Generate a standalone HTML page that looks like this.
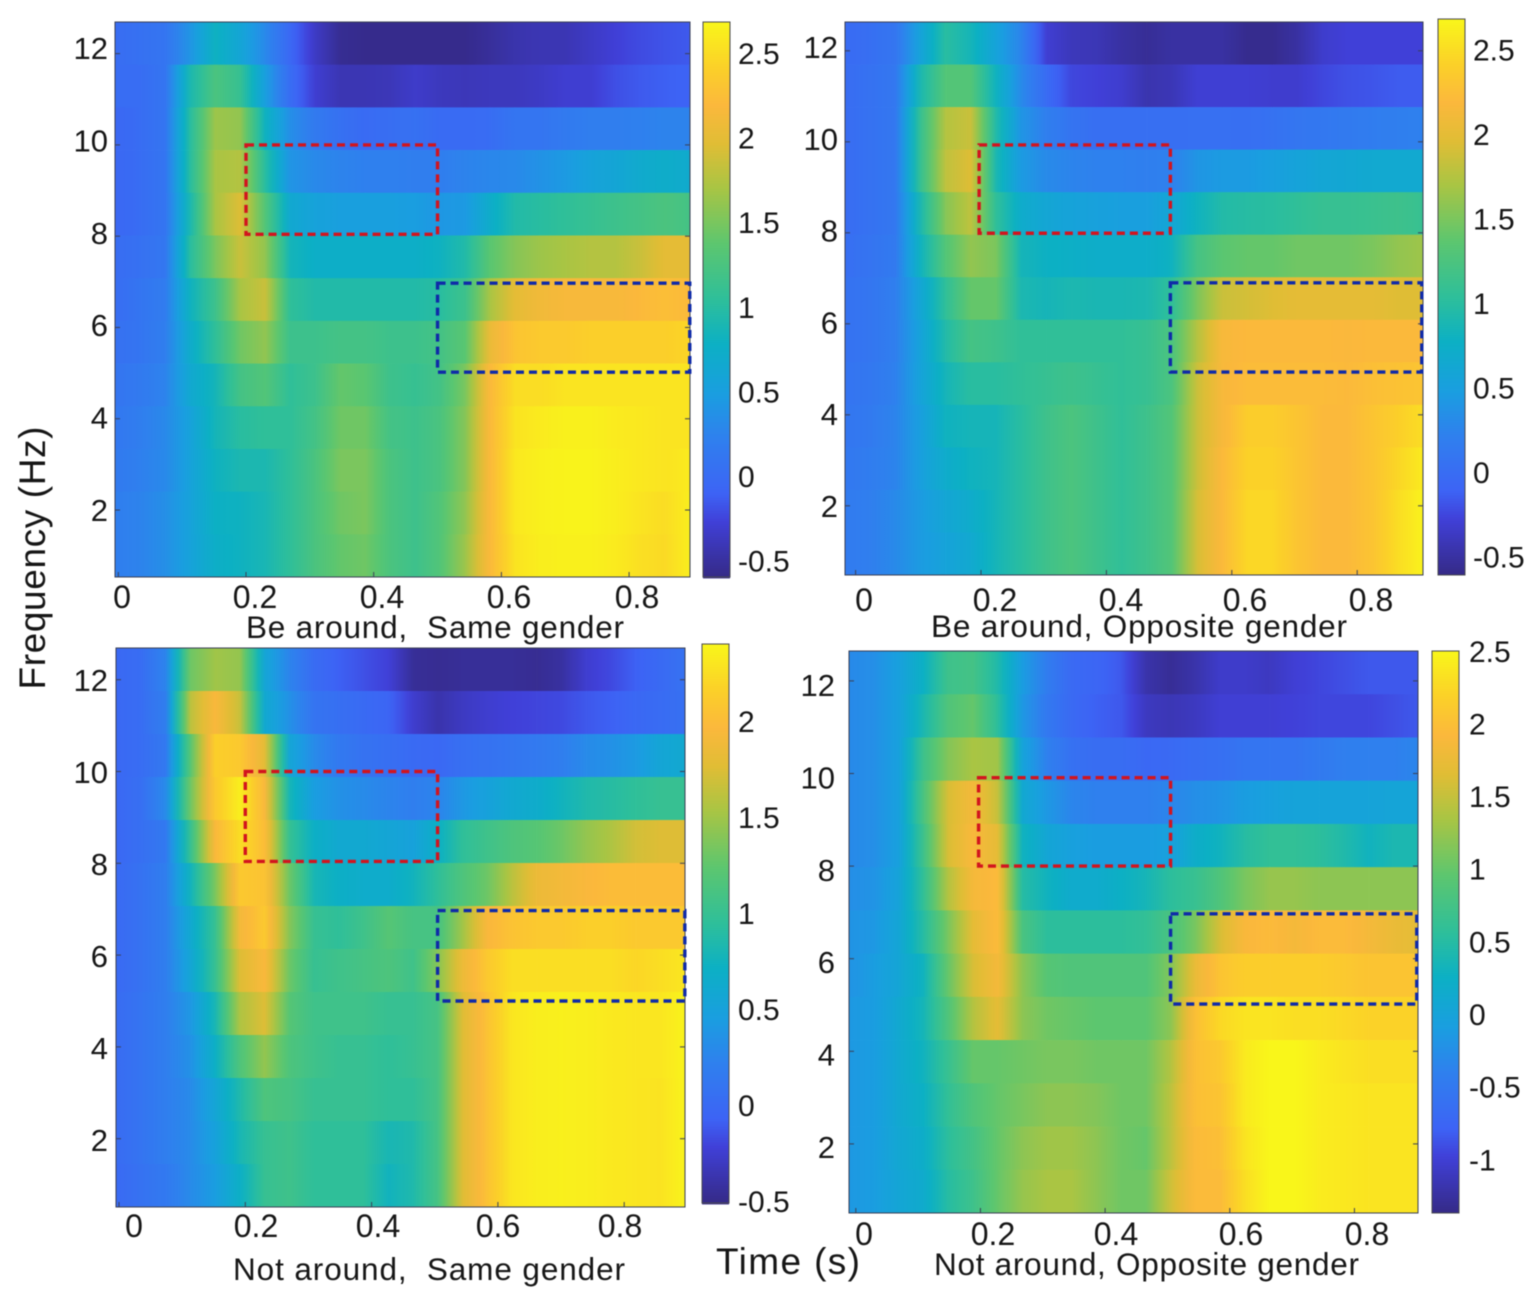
<!DOCTYPE html>
<html lang="en">
<head>
<meta charset="utf-8">
<title>Time-frequency power by condition</title>
<style>
html,body{margin:0;padding:0;background:#fff;width:1535px;height:1298px;overflow:hidden}
svg{display:block;filter:blur(0.55px)}
text{font-family:"Liberation Sans",sans-serif;fill:#161616}
</style>
</head>
<body>
<svg id="figure" xmlns="http://www.w3.org/2000/svg" width="1535" height="1298" viewBox="0 0 1535 1298">
<defs id="grads"></defs>
<g id="panels"></g>
<text transform="translate(45,558) rotate(-90)" text-anchor="middle" font-size="37" textLength="263" lengthAdjust="spacing">Frequency (Hz)</text>
<text x="716" y="1274" font-size="37" textLength="144" lengthAdjust="spacing">Time (s)</text>
<text x="246" y="638" font-size="31.5" textLength="378" lengthAdjust="spacing" xml:space="preserve">Be around,  Same gender</text>
<text x="931" y="637" font-size="31.5" textLength="416" lengthAdjust="spacing">Be around, Opposite gender</text>
<text x="233" y="1280" font-size="31.5" textLength="392" lengthAdjust="spacing" xml:space="preserve">Not around,  Same gender</text>
<text x="934" y="1275" font-size="31.5" textLength="425" lengthAdjust="spacing">Not around, Opposite gender</text>
</svg>
<script>
// Axis tick values and labels
const xTickValues = [0, 0.2, 0.4, 0.6, 0.8];
const xTickLabels = ['0', '0.2', '0.4', '0.6', '0.8'];
const yTickValues = [2, 4, 6, 8, 10, 12];
const yTickLabels = ['2', '4', '6', '8', '10', '12'];
const cbTicksA = [-0.5, 0, 0.5, 1, 1.5, 2, 2.5];
const cbLabelsA = ['-0.5', '0', '0.5', '1', '1.5', '2', '2.5'];
const cbTicksC = [-0.5, 0, 0.5, 1, 1.5, 2];
const cbLabelsC = ['-0.5', '0', '0.5', '1', '1.5', '2'];
const cbTicksD = [-1, -0.5, 0, 0.5, 1, 1.5, 2, 2.5];
const cbLabelsD = ['-1', '-0.5', '0', '0.5', '1', '1.5', '2', '2.5'];

// Heatmap values: rows run from the highest frequency bin to the lowest, columns from earliest to latest time sample
const beAroundSame = [
[0,.05,.1,.4,.8,.6,.3,-.05,-.35,-.55,-.58,-.58,-.58,-.58,-.58,-.52,-.45,-.42,-.42,-.35,-.28,-.22,-.18,-.15],
[0,0,.1,.9,1.25,1.1,.5,0,-.3,-.42,-.42,-.4,-.33,-.38,-.4,-.38,-.38,-.35,-.3,-.3,-.2,-.15,-.12,-.1],
[-.05,0,.1,1,1.65,1.6,.8,.35,.15,.05,-.02,.02,.05,-.02,-.02,0,.1,.1,.15,.2,.2,.22,.25,.25],
[-.05,0,.1,1,1.7,1.75,1,.4,.3,.25,.22,.22,.2,.2,.25,.28,.3,.38,.45,.55,.6,.68,.72,.68],
[-.05,0,.1,.9,1.7,1.95,1.3,.65,.55,.5,.5,.5,.48,.42,.45,.72,.95,1,1.05,1.1,1.15,1.2,1.25,1.2],
[0,.05,.12,1,1.5,1.85,1.6,.85,.75,.75,.75,.75,.75,.8,.95,1.35,1.55,1.65,1.7,1.75,1.75,1.85,2,2],
[0,.1,.18,.8,1.15,1.7,1.85,1.05,.95,.95,.95,.95,.95,1,1.15,1.7,2,2.1,2.15,2.15,2.15,2.2,2.25,2.2],
[.05,.1,.2,.7,1.05,1.45,1.6,1.15,1.15,1.2,1.2,1.15,1.15,1.2,1.35,2.05,2.3,2.35,2.35,2.4,2.4,2.4,2.4,2.45],
[.1,.15,.25,.65,.85,1.2,1.3,1.05,1.15,1.4,1.35,1.15,1.1,1.2,1.5,2.2,2.5,2.5,2.55,2.55,2.55,2.55,2.55,2.55],
[.12,.2,.3,.55,.85,1,1.05,1.05,1.2,1.45,1.45,1.2,1.15,1.25,1.55,2.2,2.55,2.6,2.64,2.64,2.6,2.58,2.55,2.55],
[.15,.22,.3,.55,.8,.9,.9,1.05,1.25,1.5,1.5,1.25,1.15,1.25,1.55,2.2,2.58,2.64,2.66,2.66,2.62,2.58,2.55,2.6],
[.2,.25,.35,.55,.78,.8,.88,1.05,1.25,1.45,1.5,1.25,1.15,1.3,1.6,2.2,2.58,2.64,2.66,2.66,2.62,2.55,2.5,2.62],
[.2,.25,.35,.55,.75,.8,.88,1.05,1.25,1.4,1.45,1.25,1.15,1.3,1.65,2.2,2.55,2.62,2.64,2.64,2.6,2.52,2.48,2.62]
];
const beAroundOpposite = [
[-.02,.02,.1,.55,1,.85,.55,.25,-.3,-.4,-.42,-.5,-.55,-.5,-.5,-.5,-.58,-.58,-.5,-.33,-.28,-.28,-.28,-.28],
[0,.05,.12,.9,1.3,1.3,.8,.3,-.02,-.25,-.28,-.32,-.45,-.42,-.3,-.3,-.3,-.32,-.32,-.25,-.2,-.18,-.15,-.15],
[0,.05,.12,1.1,1.75,1.85,.95,.4,.2,.08,.02,.02,.02,.02,.03,.03,.02,.05,.1,.12,.15,.18,.2,.22],
[0,.05,.12,1.1,1.8,1.95,.9,.45,.3,.25,.22,.22,.2,.22,.4,.45,.45,.5,.55,.6,.62,.65,.65,.65],
[0,.05,.12,.9,1.55,1.8,1.05,.7,.6,.55,.52,.5,.5,.6,.8,.95,.98,1,1.05,1.1,1.1,1.12,1.15,1.1],
[.02,.08,.15,.8,1.3,1.6,1.5,.85,.78,.75,.72,.72,.72,.8,1.2,1.35,1.4,1.4,1.45,1.45,1.45,1.5,1.6,1.65],
[.05,.1,.2,.6,1.05,1.4,1.4,.9,.85,.9,.88,.88,.9,1.05,1.5,1.85,1.9,1.95,2,2,2,2,1.95,1.95],
[.05,.1,.2,.55,.95,1.2,1.15,1.05,1.05,1.05,1.05,1.05,1.1,1.25,1.75,2.15,2.2,2.2,2.2,2.2,2.18,2.2,2.2,2.2],
[.08,.12,.22,.55,.85,1,1,1.05,1.1,1.15,1.1,1.05,1.1,1.25,1.85,2.15,2.22,2.22,2.22,2.22,2.2,2.25,2.28,2.3],
[.1,.15,.25,.5,.8,.85,.85,1,1.15,1.25,1.15,1.05,1.15,1.3,1.85,2.15,2.38,2.38,2.3,2.2,2.2,2.3,2.4,2.5],
[.12,.18,.25,.5,.7,.8,.85,1,1.15,1.25,1.15,1.05,1.15,1.3,1.85,2.2,2.42,2.42,2.3,2.2,2.2,2.3,2.45,2.6],
[.15,.2,.3,.45,.6,.7,.85,1,1.15,1.25,1.15,1.05,1.15,1.3,1.9,2.2,2.46,2.46,2.3,2.2,2.2,2.3,2.5,2.65],
[.15,.2,.3,.45,.55,.65,.85,1,1.15,1.25,1.15,1.05,1.15,1.3,1.9,2.2,2.46,2.46,2.3,2.2,2.2,2.3,2.5,2.65]
];
const notAroundSame = [
[-.02,.03,.25,1.3,1.5,1.45,.55,.25,.02,-.08,-.15,-.22,-.45,-.47,-.45,-.45,-.45,-.47,-.42,-.25,-.18,-.08,0,.08],
[-.02,.03,.2,1.6,1.95,1.65,.6,.35,.1,.05,0,-.05,-.25,-.38,-.3,-.25,-.22,-.2,-.18,-.12,-.08,-.02,.02,.05],
[-.02,.03,.15,1.2,2.15,2.1,1.8,.55,.3,.15,.08,.05,0,-.02,.05,.08,.12,.15,.2,.3,.35,.42,.55,.6],
[-.02,.05,.3,1.3,2.1,2.35,1.95,.8,.45,.35,.3,.25,.2,.25,.4,.5,.6,.65,.75,.85,.9,.95,1,1],
[-.02,.05,.15,1,1.95,2.25,2,1,.7,.6,.6,.55,.5,.7,.95,1.05,1.15,1.2,1.3,1.45,1.55,1.7,1.75,1.75],
[0,.08,.2,.75,1.35,2.1,2.05,1.3,.8,.7,.65,.65,.75,.95,1.15,1.3,1.6,1.85,1.9,1.95,2,2,2,2],
[0,.08,.2,.6,1,1.9,2.1,1.4,1,.95,1.05,1.2,1.1,1.1,1.5,1.95,2.05,2.1,2.1,2.15,2.15,2.1,2.1,2.1],
[0,.08,.2,.55,1,1.75,1.95,1.3,1,1.05,1.1,1.15,1.05,1.4,1.85,2.1,2.25,2.25,2.25,2.25,2.25,2.2,2.25,2.3],
[.02,.1,.2,.4,.8,1.55,1.75,1.2,1.05,1.05,1.05,1,1,1.1,1.75,2.05,2.3,2.35,2.36,2.35,2.32,2.3,2.3,2.38],
[.02,.1,.2,.35,.7,1.15,1.45,1.15,1.05,1,1,.95,1,1.1,1.75,2.05,2.3,2.35,2.36,2.35,2.32,2.3,2.3,2.38],
[.02,.1,.2,.3,.55,.85,1.15,1.1,1,1,1,.95,.95,1.1,1.75,2.05,2.3,2.35,2.36,2.35,2.32,2.3,2.28,2.38],
[.02,.1,.2,.3,.5,.8,1,1.05,.95,.95,.95,.8,.85,1.1,1.75,2.05,2.3,2.35,2.36,2.35,2.32,2.3,2.28,2.38],
[0,.08,.15,.3,.45,.7,1,1.05,.95,.95,.95,.75,.85,1.1,1.75,2.05,2.3,2.35,2.36,2.35,2.32,2.3,2.28,2.38]
];
const notAroundOpposite = [
[-.3,-.25,-.05,.25,.7,.75,.45,-.1,-.45,-.7,-.75,-.85,-1.2,-1.3,-1.2,-1.05,-1.05,-1.1,-1,-.95,-.9,-.85,-.85,-.85],
[-.3,-.25,-.05,.4,.85,1,.55,-.15,-.5,-.7,-.8,-.85,-1.1,-1.15,-1.1,-1,-1,-1,-.98,-.95,-.95,-.95,-.9,-.85],
[-.3,-.25,-.05,.7,1.15,1.35,1.3,0,-.4,-.6,-.65,-.65,-.72,-.7,-.65,-.62,-.55,-.55,-.55,-.48,-.42,-.4,-.4,-.35],
[-.3,-.25,-.05,.8,1.6,1.85,1.5,.1,-.15,-.35,-.4,-.4,-.4,-.35,-.25,-.2,-.1,-.05,0,0,0,0,.02,.02],
[-.3,-.25,-.05,.7,1.6,1.9,1.7,.3,.05,-.05,-.1,-.1,-.1,-.05,.2,.3,.5,.6,.6,.55,.45,.3,.4,.4],
[-.25,-.2,0,.6,1.4,1.85,1.95,.5,.3,.15,.15,.25,.35,.55,.65,.85,1.1,1.25,1.25,1.2,1.2,1.2,1.2,1.2],
[-.2,-.15,.05,.5,1.1,1.7,1.95,.8,.55,.55,.55,.55,.6,.8,1.1,1.6,1.9,1.95,1.85,1.95,1.95,1.85,1.75,1.7],
[-.2,-.1,.05,.3,1,1.6,1.85,1.2,.9,.85,.85,.85,.85,1.15,1.75,2.05,2.15,2.15,2.15,2.15,2.1,2.05,2.05,2.05],
[-.15,-.1,.1,.35,.85,1.4,1.7,1.2,1.05,1,.95,.95,.95,1.2,2,2.25,2.35,2.35,2.3,2.3,2.25,2.2,2.2,2.2],
[-.15,-.1,.1,.3,.65,1,1,1.05,1.1,1.1,1.05,1.05,1.05,1.4,2,2.1,2.4,2.5,2.5,2.42,2.35,2.3,2.3,2.3],
[-.15,-.1,.1,.25,.6,.85,1,1.1,1.2,1.2,1.15,1.05,1.05,1.45,2,2.05,2.4,2.5,2.5,2.42,2.38,2.35,2.35,2.35],
[-.15,-.1,.08,.2,.55,.75,1,1.2,1.3,1.3,1.2,1.05,1,1.45,1.95,2,2.35,2.5,2.5,2.42,2.38,2.35,2.35,2.35],
[-.15,-.1,.05,.15,.5,.7,1,1.25,1.35,1.35,1.2,1.05,1.05,1.55,1.95,1.95,2.3,2.5,2.5,2.42,2.38,2.35,2.35,2.35]
];

// Colormap
const cmapPos = [0, .1, .15, .25, .33, .42, .5, .6, .7, .78, .85, .92, 1];
const cmapHex = ['#352a87','#4040d8','#3d63f5','#2f80ee','#1a9ee0','#0cb0c4','#2ebf9a','#5cc66f','#a8c544','#e0bd35','#fbb83c','#fbd128','#f9f61a'];
function hexRgb(h){return [1,3,5].map(function(i){return parseInt(h.substr(i,2),16);});}
function cmap(t){
  t=Math.max(0,Math.min(1,t));
  var i=0;
  while(i<cmapPos.length-2&&t>cmapPos[i+1])i++;
  var f=(t-cmapPos[i])/(cmapPos[i+1]-cmapPos[i]);
  var a=hexRgb(cmapHex[i]),b=hexRgb(cmapHex[i+1]);
  return 'rgb('+a.map(function(v,k){return Math.round(v+(b[k]-v)*f);}).join(',')+')';
}

// Panel layout
const panels = [
 {key:'be-around-same',data:beAroundSame,box:[115,22,690,577],xs:[118.3,638.5],ys:[601.3,45.64],
  cb:[703,22,730,577],cbRange:[-.6,2.68],cbT:cbTicksA,cbL:cbLabelsA,cbScale:[476,169.2],cbLabelX:738,
  xLabelPos:[122,255,382,509,637],xLabelBase:608,yLabelRight:108,yLabelScale:[510,46.2],
  red:[.2,.5,8.04,10],blue:[.5,.895,5.02,6.97]},
 {key:'be-around-opposite',data:beAroundOpposite,box:[845,22,1423,575],xs:[855.6,627],ys:[596.8,45.5],
  cb:[1438,19,1465,575],cbRange:[-.61,2.68],cbT:cbTicksA,cbL:cbLabelsA,cbScale:[472,169],cbLabelX:1473,
  xLabelPos:[864,995,1121,1245,1371],xLabelBase:611,yLabelRight:838,yLabelScale:[506,45.9],
  red:[.197,.502,7.99,9.93],blue:[.502,.903,4.94,6.9]},
 {key:'not-around-same',data:notAroundSame,box:[116,648,685,1207],xs:[119,631.5],ys:[1230.5,45.9],
  cb:[702,644,729,1203],cbRange:[-.51,2.4],cbT:cbTicksC,cbL:cbLabelsC,cbScale:[1105,192],cbLabelX:738,
  xLabelPos:[134,256,378,498,620],xLabelBase:1237,yLabelRight:108,yLabelScale:[1140,46],
  red:[.2,.5045,8.04,10],blue:[.5045,.896,5,6.97]},
 {key:'not-around-opposite',data:notAroundOpposite,box:[849,651,1418,1213],xs:[855.8,623.3],ys:[1236.5,46.3],
  cb:[1432,651,1459,1213],cbRange:[-1.37,2.5],cbT:cbTicksD,cbL:cbLabelsD,cbScale:[1014,145.3],cbLabelX:1469,
  xLabelPos:[864,993,1116,1241,1367],xLabelBase:1245,yLabelRight:835,yLabelScale:[1147,46.2],
  red:[.197,.505,8,9.91],blue:[.505,.9,5.02,6.97]}
];

const NS='http://www.w3.org/2000/svg';
const root=document.getElementById('panels');
const defs=document.getElementById('grads');
function mk(tag,attrs,parent){
  var el=document.createElementNS(NS,tag);
  for(var k in attrs)el.setAttribute(k,attrs[k]);
  parent.appendChild(el);
  return el;
}
var gradId=0;
panels.forEach(function(p){
  const g=mk('g',{},root);
  
  
  const xScale=function(t){return p.xs[0]+p.xs[1]*t;};
  const yScale=function(f){return p.ys[0]-p.ys[1]*f;};
  const left=p.box[0],top=p.box[1],right=p.box[2],bottom=p.box[3];
  const tMin=(left-p.xs[0])/p.xs[1],tMax=(right-p.xs[0])/p.xs[1];
  const fTop=(p.ys[0]-top)/p.ys[1],fBot=(p.ys[0]-bottom)/p.ys[1];
  const colorOf=function(v){return cmap((v-p.cbRange[0])/(p.cbRange[1]-p.cbRange[0]));};
  const nRows=p.data.length;
  const fStep=(fTop-fBot)/nRows;

  const heat=mk('g',{},g);
  
  
  p.data.forEach(function(row,r){
    const yT=yScale(fTop-r*fStep),yB=yScale(fTop-(r+1)*fStep);
    const tStep=(tMax-tMin)/(row.length-1);
    for(var c=0;c<row.length-1;c++){
      const id='g'+(gradId++);
      const lg=mk('linearGradient',{id:id,x1:'0',x2:'1',y1:'0',y2:'0'},defs);
      for(var s=0;s<=4;s++){
        mk('stop',{offset:s/4,'stop-color':colorOf(row[c]+(row[c+1]-row[c])*s/4)},lg);
      }
      const x0=xScale(tMin+c*tStep),x1=xScale(tMin+(c+1)*tStep);
      const cell=mk('rect',{x:x0,y:yT,width:x1-x0+(c<row.length-2?.4:0),height:yB-yT+(r<nRows-1?.4:0),fill:'url(#'+id+')'},heat);
      
      
    }
  });

  const frame=mk('rect',{x:left,y:top,width:right-left,height:bottom-top,fill:'none',stroke:'#3a3f55','stroke-width':1},g);
  
  

  xTickValues.forEach(function(t,i){
    const x=xScale(t);
    const tick=mk('line',{x1:x,x2:x,y1:bottom,y2:bottom-5,stroke:'#3a3f55','stroke-width':1},g);
    
    
    const lab=mk('text',{x:p.xLabelPos[i],y:p.xLabelBase,'text-anchor':'middle','font-size':32},g);
    lab.textContent=xTickLabels[i];
    
    
  });
  yTickValues.forEach(function(f,i){
    const y=yScale(f);
    const tick=mk('line',{x1:left,x2:left+5,y1:y,y2:y,stroke:'#3a3f55','stroke-width':1},g);
    
    
    const tick2=mk('line',{x1:right,x2:right-5,y1:y,y2:y,stroke:'#3a3f55','stroke-width':1},g);
    
    
    const lab=mk('text',{x:p.yLabelRight,y:p.yLabelScale[0]-p.yLabelScale[1]*(f-2)+11,'text-anchor':'end','font-size':31},g);
    lab.textContent=yTickLabels[i];
    
    
  });

  const redBox=mk('rect',{x:xScale(p.red[0]),y:yScale(p.red[3]),width:xScale(p.red[1])-xScale(p.red[0]),height:yScale(p.red[2])-yScale(p.red[3]),fill:'none',stroke:'#d2141e','stroke-width':3.4,'stroke-dasharray':'8 5'},g);
  
  
  const blueBox=mk('rect',{x:xScale(p.blue[0]),y:yScale(p.blue[3]),width:xScale(p.blue[1])-xScale(p.blue[0]),height:yScale(p.blue[2])-yScale(p.blue[3]),fill:'none',stroke:'#0f2aa8','stroke-width':3.4,'stroke-dasharray':'8 5'},g);
  
  

  const cbG=mk('g',{},g);
  
  
  const cbH=p.cb[3]-p.cb[1];
  for(var i=0;i<cbH;i+=2){
    const s=mk('rect',{x:p.cb[0],y:p.cb[1]+i,width:p.cb[2]-p.cb[0],height:2.4,fill:cmap(1-(i+1)/cbH)},cbG);
    
    
  }
  const cbF=mk('rect',{x:p.cb[0],y:p.cb[1],width:p.cb[2]-p.cb[0],height:cbH,fill:'none',stroke:'#4a4a50','stroke-width':1},cbG);
  
  
  p.cbT.forEach(function(v,i){
    const lab=mk('text',{x:p.cbLabelX,y:p.cbScale[0]-p.cbScale[1]*v+11,'font-size':30},cbG);
    lab.textContent=p.cbL[i];
    
    
  });
});
</script>
</body>
</html>
